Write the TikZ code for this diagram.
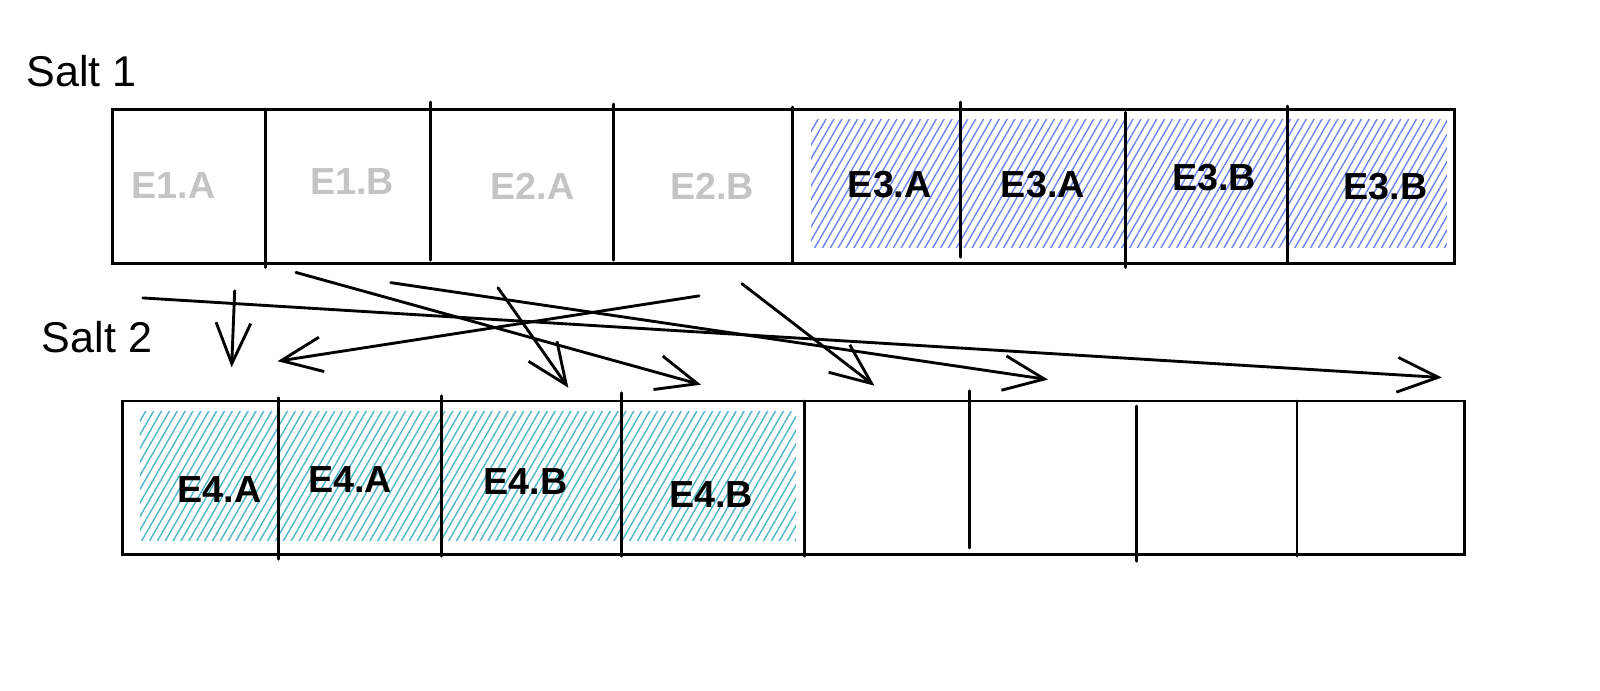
\documentclass[tikz,border=0pt]{standalone}
\usepackage{fontspec}
\setmainfont{Liberation Sans}
\usetikzlibrary{arrows.meta,patterns.meta}
\definecolor{hatchblue}{RGB}{110,134,236}
\definecolor{hatchteal}{RGB}{80,182,200}
\definecolor{greytext}{RGB}{196,196,196}

\begin{document}
\begin{tikzpicture}
    [
    x=0.01cm, y=-0.01cm, line width=0.8pt, line cap=round,
    font=\fontsize{12}{14}\selectfont,
    >={Straight Barb[length=4mm,width=3.4mm]}
    %Voreinstellung fuer Pfeilspitzen
    ]

    %Rahmen des Bildes
    \useasboundingbox (0,0) rectangle (1568,677);

    %Schraffur
    \fill[pattern={Lines[angle=60,distance=1.9pt,line width=0.4pt]}, pattern color=hatchblue]
    (795,117) rectangle (1418,243);
    \fill[pattern={Lines[angle=60,distance=1.9pt,line width=0.4pt]}, pattern color=hatchteal]
    (137,403) rectangle (780,530);

    %Salt 1
    \node (salt1) at (80,70) {Salt 1};
    \draw (110,107) rectangle (1425,258);
    \foreach \x/\a/\b in {260/107/262, 422/100/255, 601/102/255, 777/105/258,
    941/100/252, 1103/110/262, 1262/104/258}
    \draw (\x,\a) -- (\x,\b);

    %Salt 2
    \node (salt2) at (95,330) {Salt 2};
    \draw (120,393) rectangle (1435,543);
    \foreach \x/\a/\b in {273/390/548, 433/388/545, 609/385/545, 788/393/545,
    950/383/537, 1114/398/550, 1271/393/545}
    \draw (\x,\a) -- (\x,\b);

    %Beschriftung
    \foreach \x/\y/\txt/\c [count=\i] in {170/182/E1.A/greytext, 345/178/E1.B/greytext,
    522/183/E2.A/greytext, 698/183/E2.B/greytext, 872/181/E3.A/black,
    1022/181/E3.A/black, 1190/174/E3.B/black, 1358/183/E3.B/black,
    215/480/E4.A/black, 343/470/E4.A/black, 515/472/E4.B/black, 697/485/E4.B/black}
    \node[inner sep=0pt, text=\c, font=\fontsize{10.5}{13}\selectfont\bfseries] (e\i) at (\x,\y) {\txt};

    %Pfeile
    \coordinate (s1) at (230,285); \coordinate (z1) at (227,360);
    \coordinate (s2) at (685,290); \coordinate (z2) at (272,354);
    \coordinate (s3) at (290,267); \coordinate (z3) at (687,377);
    \coordinate (s4) at (488,282); \coordinate (z4) at (557,380);
    \coordinate (s5) at (383,277); \coordinate (z5) at (1027,372);
    \coordinate (s6) at (727,278); \coordinate (z6) at (857,378);
    \coordinate (s7) at (140,292); \coordinate (z7) at (1413,370);
    \foreach \i in {1,...,7}
    \draw[->] (s\i) -- (z\i);
\end{tikzpicture}
\end{document}
